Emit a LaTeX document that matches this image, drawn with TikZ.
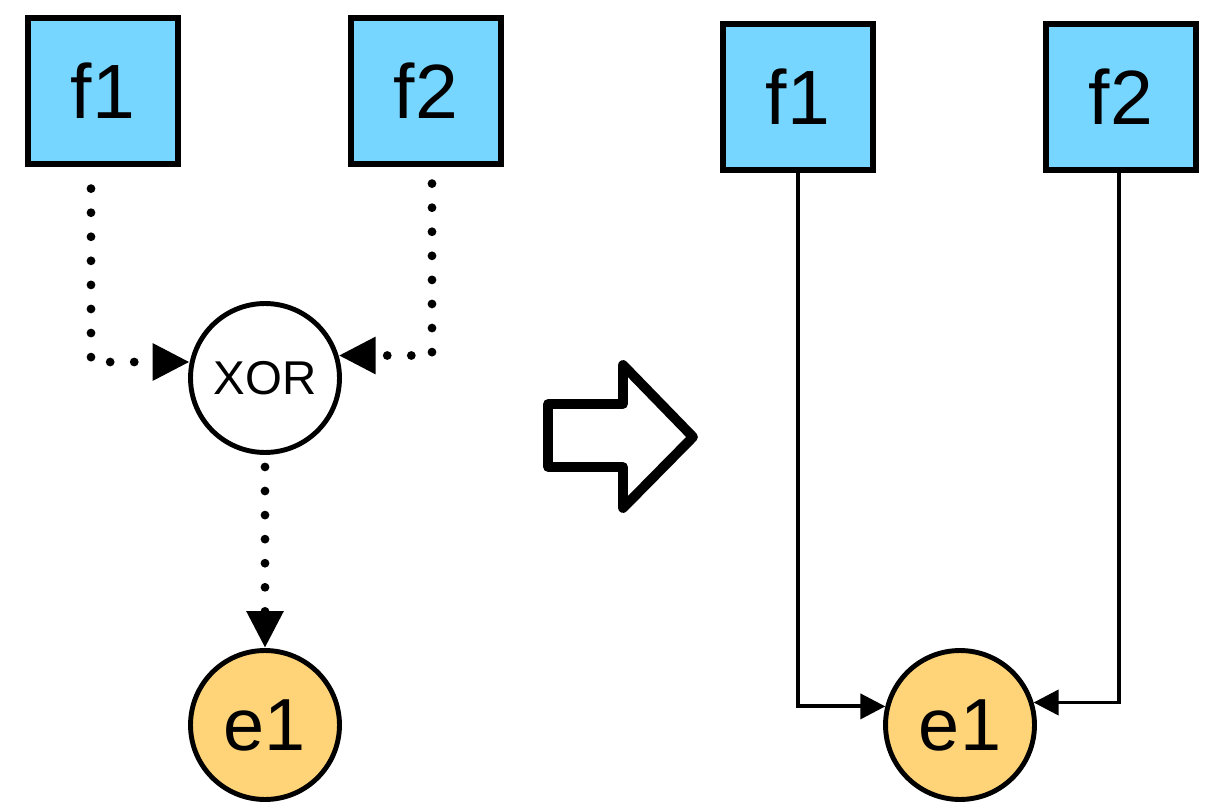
\documentclass[tikz,border=0pt]{standalone}
\usepackage{fontspec}
\setmainfont{Liberation Sans}
\usetikzlibrary{arrows.meta,calc}
\definecolor{factorblue}{HTML}{76D6FF}
\definecolor{effectyellow}{HTML}{FFD479}

\begin{document}
\begin{tikzpicture}[x=0.02cm, y=-0.02cm,
  factor/.style={draw, line width=3pt, fill=factorblue, minimum width=3cm,
    minimum height=2.92cm, inner sep=0pt, font=\fontsize{43.8}{50}\selectfont},
  effect/.style={draw, circle, line width=2.8pt, fill=effectyellow, minimum size=2.98cm,
    inner sep=0pt, font=\fontsize{42}{48}\selectfont},
  gate/.style={draw, circle, line width=2.8pt, fill=white, minimum size=2.98cm,
    inner sep=0pt, font=\fontsize{27}{32}\selectfont},
  dotline/.style={line width=5pt, line cap=round, dash pattern=on 0pt off 13.7pt,
    -{Triangle[length=0.74cm, width=0.7cm]}},
  link/.style={line width=2.2pt, -{Triangle[length=0.5cm, width=0.5cm]}}]
\useasboundingbox (0,0) rectangle (1220,803);

\node[factor] (lf1) at (103, 91) {f1};
\node[factor] (lf2) at (426, 91) {f2};
\node[gate] (lxor) at (265, 378) {XOR};
\node[effect] (le1) at (265, 725) {e1};

\draw[dotline] ($(lf1.south) + (-12, 22)$) |- (lxor.168);
\draw[dotline] ($(lf2.south) + (6, 17)$) |- (lxor.17);
\draw[dotline] ($(lxor.south) + (0, 12)$) -- (le1.north);

\draw[line width=5.6pt, line join=round]
  (548, 404) -- (623, 404) -- (623, 365) -- (693, 437)
  -- (623, 508) -- (623, 467) -- (548, 467) -- cycle;

\node[factor] (rf1) at (798, 97) {f1};
\node[factor] (rf2) at (1121, 97) {f2};
\node[effect] (re1) at (960, 725) {e1};

\draw[link] (rf1.south) |- (re1.166);
\draw[link] ($(rf2.south) + (-2, 0)$) |- (re1.17);
\end{tikzpicture}
\end{document}
